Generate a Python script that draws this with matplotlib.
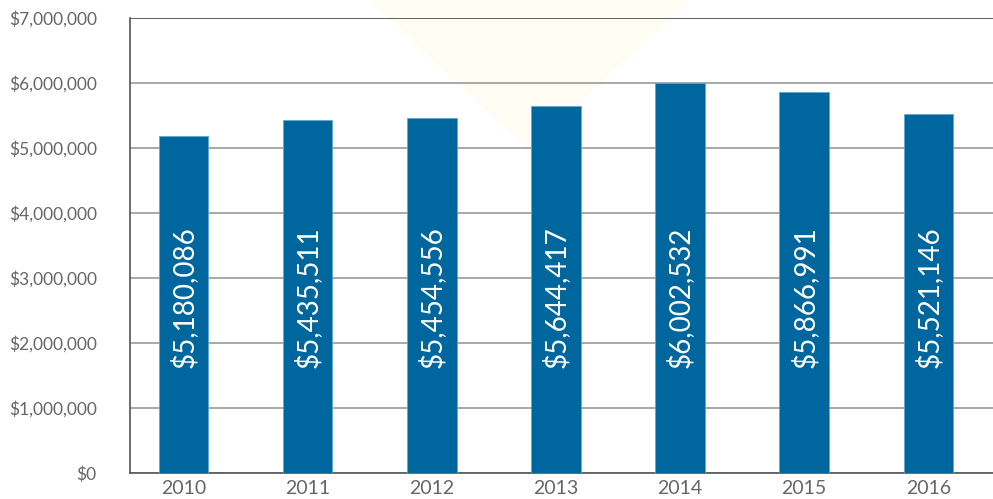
import matplotlib.pyplot as plt
from matplotlib.patches import Polygon

years = ['2010', '2011', '2012', '2013', '2014', '2015', '2016']
values = [5180086, 5435511, 5454556, 5644417, 6002532, 5866991, 5521146]
yticks = [0, 1000000, 2000000, 3000000, 4000000, 5000000, 6000000, 7000000]

plt.rcParams['font.family'] = ['Lato', 'DejaVu Sans']

fig = plt.figure(figsize=(9.93, 4.99), dpi=100)
ax = fig.add_axes([130 / 993, 26 / 499, 863 / 993, 455 / 499])

# faint watermark triangle behind everything
ax.add_patch(Polygon([(370 / 993, 1.0), (690 / 993, 1.0), (528 / 993, 0.70)],
                     closed=True, transform=fig.transFigure, clip_on=False,
                     facecolor='#fffcf3', edgecolor='none', zorder=0))

x = range(len(years))
ax.bar(x, values, width=0.4, color='#00679e', edgecolor='#5fa8d3', linewidth=0.6, zorder=3)

for i, v in enumerate(values):
    ax.text(i, 2700000, '${:,}'.format(v), rotation=90, ha='center', va='center',
            color='white', fontsize=20, zorder=4)

ax.set_ylim(0, 7000000)
ax.set_xlim(-0.43, 6.52)
ax.set_yticks(yticks)
ax.set_yticklabels(['${:,}'.format(t) for t in yticks])
ax.set_xticks(list(x))
ax.set_xticklabels(years)
ax.tick_params(axis='y', length=0, labelsize=12.5, labelcolor='#666666', pad=24)
ax.tick_params(axis='x', length=0, labelsize=14, labelcolor='#666666', pad=5)

ax.yaxis.grid(True, color='#999999', linewidth=1.2, zorder=1)
ax.set_axisbelow(True)
for s in ['top', 'right']:
    ax.spines[s].set_visible(False)
for s in ['left', 'bottom']:
    ax.spines[s].set_color('#555555')
    ax.spines[s].set_linewidth(1.2)
ax.axhline(7000000, color='#555555', linewidth=1.2, zorder=1)

fig.savefig('out.png', dpi=100)
